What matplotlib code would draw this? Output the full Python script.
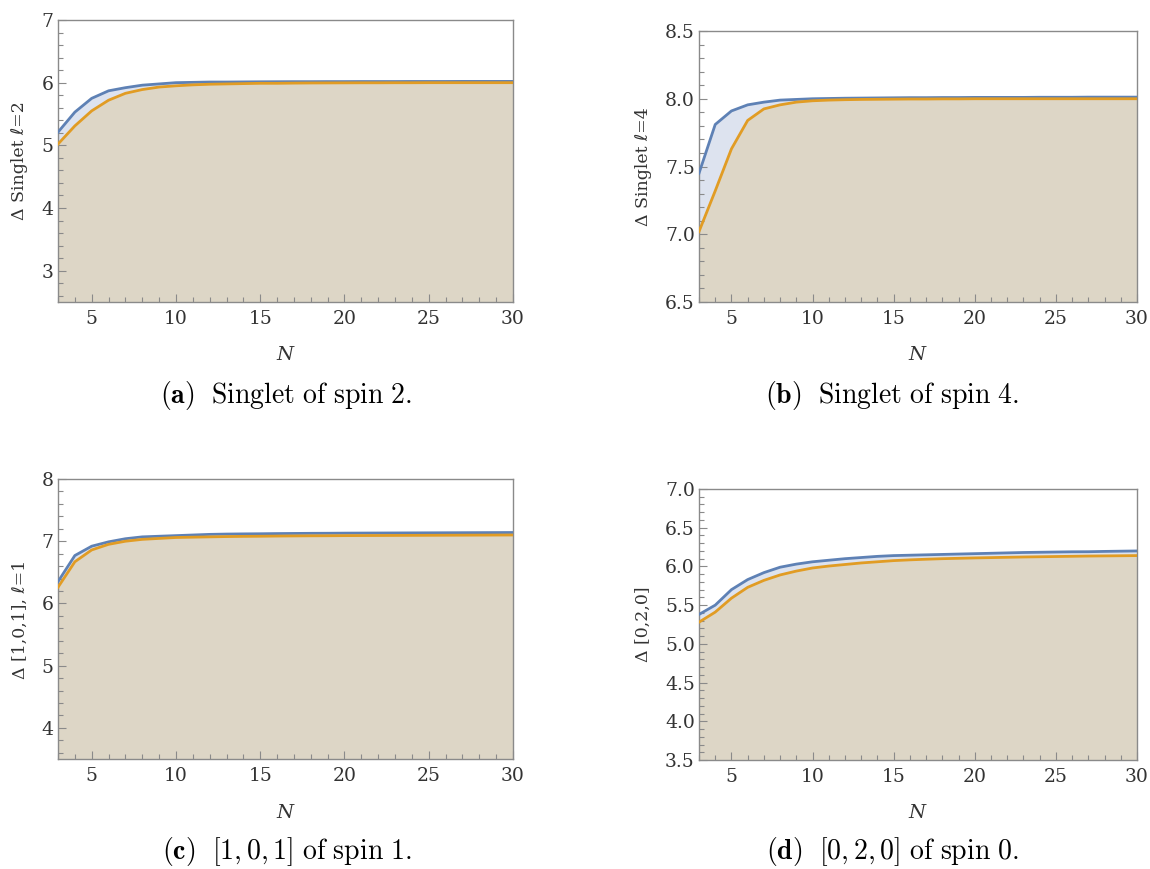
import matplotlib
matplotlib.use("Agg")
import matplotlib.pyplot as plt
from matplotlib.ticker import MultipleLocator, FormatStrFormatter

plt.rcParams['mathtext.fontset'] = 'cm'

N = list(range(3, 31))

# (a) Singlet of spin 2
a_upper = [5.21, 5.53, 5.75, 5.87, 5.92, 5.96, 5.98, 6.00, 6.005, 6.01, 6.01, 6.012, 6.014,
           6.015, 6.016, 6.016, 6.017, 6.017, 6.018, 6.018, 6.018, 6.019, 6.019, 6.019, 6.02,
           6.02, 6.02, 6.02]
a_lower = [5.02, 5.31, 5.55, 5.72, 5.83, 5.89, 5.93, 5.95, 5.965, 5.975, 5.98, 5.985, 5.99,
           5.99, 5.993, 5.995, 5.996, 5.997, 5.998, 5.998, 5.999, 5.999, 6.0, 6.0, 6.0,
           6.0, 6.0, 6.0]
# (b) Singlet of spin 4
b_upper = [7.45, 7.81, 7.91, 7.955, 7.975, 7.99, 7.995, 8.0, 8.002, 8.004, 8.005, 8.006, 8.007,
           8.008, 8.008, 8.009, 8.009, 8.01, 8.01, 8.01, 8.01, 8.011, 8.011, 8.011, 8.012,
           8.012, 8.012, 8.012]
b_lower = [7.02, 7.32, 7.63, 7.84, 7.925, 7.955, 7.975, 7.985, 7.99, 7.993, 7.995, 7.996, 7.997,
           7.998, 7.998, 7.999, 7.999, 8.0, 8.0, 8.0, 8.0, 8.0, 8.0, 8.0, 8.0,
           8.0, 8.0, 8.0]
# (c) [1,0,1] of spin 1
c_upper = [6.35, 6.77, 6.92, 6.99, 7.04, 7.07, 7.08, 7.09, 7.10, 7.11, 7.115, 7.118, 7.12,
           7.123, 7.125, 7.127, 7.128, 7.13, 7.131, 7.132, 7.133, 7.134, 7.135, 7.136, 7.137,
           7.138, 7.139, 7.14]
c_lower = [6.26, 6.67, 6.86, 6.95, 7.0, 7.03, 7.045, 7.06, 7.065, 7.07, 7.075, 7.078, 7.08,
           7.083, 7.085, 7.087, 7.088, 7.09, 7.091, 7.092, 7.093, 7.094, 7.095, 7.096, 7.097,
           7.098, 7.099, 7.10]
# (d) [0,2,0] of spin 0
d_upper = [5.38, 5.50, 5.70, 5.83, 5.92, 5.99, 6.03, 6.06, 6.08, 6.10, 6.115, 6.13, 6.14,
           6.145, 6.15, 6.155, 6.16, 6.165, 6.17, 6.175, 6.18, 6.183, 6.186, 6.189, 6.19,
           6.194, 6.197, 6.20]
d_lower = [5.28, 5.41, 5.59, 5.73, 5.82, 5.89, 5.94, 5.98, 6.005, 6.025, 6.045, 6.06, 6.075,
           6.085, 6.093, 6.10, 6.105, 6.11, 6.114, 6.118, 6.122, 6.125, 6.128, 6.131, 6.134,
           6.136, 6.138, 6.14]

panels = [
    dict(up=a_upper, lo=a_lower, ylim=(2.5, 7), major=1, minor=0.2, fmt='%d',
         ylabel='Δ Singlet ℓ=2', rect=(58, 20, 513, 302),
         cap=r"$\mathbf{(a)}\ \ \mathrm{Singlet\ of\ spin\ 2.}$", capx=286, capy=396,
         ylx=20, nx=285, ny=355),
    dict(up=b_upper, lo=b_lower, ylim=(6.5, 8.5), major=0.5, minor=0.1, fmt='%.1f',
         ylabel='Δ Singlet ℓ=4', rect=(699, 31, 1137, 302),
         cap=r"$\mathbf{(b)}\ \ \mathrm{Singlet\ of\ spin\ 4.}$", capx=892, capy=396,
         ylx=643, nx=917, ny=355),
    dict(up=c_upper, lo=c_lower, ylim=(3.5, 8), major=1, minor=0.2, fmt='%d',
         ylabel='Δ [1,0,1], ℓ=1', rect=(58, 479, 513, 759),
         cap=r"$\mathbf{(c)}\ \ [1,0,1]\ \mathrm{of\ spin\ 1.}$", capx=287, capy=852,
         ylx=20, nx=285, ny=813),
    dict(up=d_upper, lo=d_lower, ylim=(3.5, 7.0), major=0.5, minor=0.1, fmt='%.1f',
         ylabel='Δ [0,2,0]', rect=(699, 489, 1137, 760),
         cap=r"$\mathbf{(d)}\ \ [0,2,0]\ \mathrm{of\ spin\ 0.}$", capx=892, capy=852,
         ylx=643, nx=917, ny=813),
]

W, H = 1150, 869
fig = plt.figure(figsize=(W / 100, H / 100), dpi=100)

blue = '#5E81B5'
orange = '#E19C24'
fill_blue = '#DDE3EF'
fill_beige = '#DDD6C6'
frame = '#8a8a8a'
serif = ['DejaVu Serif', 'DejaVu Sans']

for p in panels:
    x0, y0, x1, y1 = p['rect']
    ax = fig.add_axes([x0 / W, 1 - y1 / H, (x1 - x0) / W, (y1 - y0) / H])
    ymin, ymax = p['ylim']
    ax.fill_between(N, p['lo'], p['up'], color=fill_blue, lw=0, zorder=1)
    ax.fill_between(N, ymin, p['lo'], color=fill_beige, lw=0, zorder=1)
    ax.plot(N, p['up'], color=blue, lw=2.0, zorder=3, solid_joinstyle='round')
    ax.plot(N, p['lo'], color=orange, lw=2.0, zorder=3, solid_joinstyle='round')
    ax.set_xlim(3, 30)
    ax.set_ylim(ymin, ymax)
    ax.xaxis.set_major_locator(MultipleLocator(5))
    ax.xaxis.set_minor_locator(MultipleLocator(1))
    ax.yaxis.set_major_locator(MultipleLocator(p['major']))
    ax.yaxis.set_minor_locator(MultipleLocator(p['minor']))
    ax.yaxis.set_major_formatter(FormatStrFormatter(p['fmt']))
    for s in ax.spines.values():
        s.set_color(frame)
        s.set_linewidth(1.0)
    ax.tick_params(which='both', direction='in', color=frame, top=False, right=False,
                   labelsize=13.5, labelcolor='#333333', width=0.8)
    ax.tick_params(which='major', length=6)
    ax.tick_params(which='minor', length=3.5)
    ax.tick_params(axis='x', pad=6)
    ax.tick_params(axis='y', pad=3)
    for lab in ax.get_xticklabels() + ax.get_yticklabels():
        lab.set_family(serif)
    fig.text(p['ylx'] / W, 1 - ((y0 + y1) / 2) / H, p['ylabel'], rotation=90,
             ha='center', va='center', fontsize=12.5, family=serif, color='#333333')
    fig.text(p['nx'] / W, 1 - p['ny'] / H, 'N', ha='center', va='center', fontsize=14,
             family=serif, style='italic', color='#333333')
    fig.text(p['capx'] / W, 1 - p['capy'] / H, p['cap'], ha='center', va='center',
             fontsize=20, color='black')

fig.savefig('out.png', dpi=100)
